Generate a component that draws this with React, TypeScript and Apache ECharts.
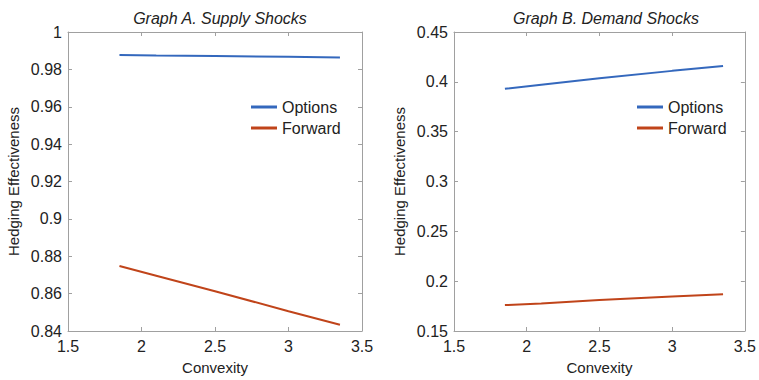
import React, { useEffect, useRef } from "react";
import * as echarts from "echarts";

const convexity = [1.85, 2.1, 2.5, 3.0, 3.35];
const supplyOptions = [0.9877, 0.9874, 0.9871, 0.9867, 0.9863];
const supplyForward = [0.8748, 0.8696, 0.8613, 0.8506, 0.8433];
const demandOptions = [0.393, 0.397, 0.4035, 0.411, 0.416];
const demandForward = [0.176, 0.1775, 0.181, 0.1846, 0.1869];
const titles = ["Graph A. Supply Shocks", "Graph B. Demand Shocks"];
const seriesNames = ["Options", "Forward"];

const BLUE = "#3468bd";
const RED = "#c0441a";
const FONT = "Liberation Sans, Arial, sans-serif";

export default function App() {
  const ref = useRef<HTMLDivElement>(null);
  useEffect(() => {
    if (!ref.current) return;
    const chart = echarts.init(ref.current, undefined, { renderer: "svg" });
    const grids = [
      { left: 68, top: 32, width: 294, height: 301 },
      { left: 454, top: 32, width: 294, height: 301 },
    ];
    const yRanges = [
      { min: 0.84, max: 1, interval: 0.02 },
      { min: 0.15, max: 0.45, interval: 0.05 },
    ];
    const axisLine = { show: true, lineStyle: { color: "#a0a0a0", width: 1 } };
    const label = { color: "#222", fontSize: 16, fontFamily: FONT };
    const tick = { inside: true, length: 4, lineStyle: { color: "#a0a0a0" } };
    const xAxis: any[] = [];
    const yAxis: any[] = [];
    [0, 1].forEach((g) => {
      xAxis.push({
        type: "value", gridIndex: g, min: 1.5, max: 3.5, interval: 0.5,
        position: "bottom", axisLine, axisTick: tick,
        axisLabel: { ...label, margin: 7 }, splitLine: { show: false },
        name: "Convexity", nameLocation: "middle", nameGap: 29,
        nameTextStyle: { color: "#222", fontSize: 15, fontFamily: FONT },
      });
      xAxis.push({
        type: "value", gridIndex: g, min: 1.5, max: 3.5, interval: 0.5,
        position: "top", axisLine, axisTick: tick,
        axisLabel: { show: false }, splitLine: { show: false },
      });
      yAxis.push({
        type: "value", gridIndex: g, ...yRanges[g],
        position: "left", axisLine, axisTick: tick,
        axisLabel: { ...label, margin: 6 }, splitLine: { show: false },
        name: "Hedging Effectiveness", nameLocation: "middle", nameGap: 47,
        nameTextStyle: { color: "#222", fontSize: 15, fontFamily: FONT },
      });
      yAxis.push({
        type: "value", gridIndex: g, ...yRanges[g],
        position: "right", axisLine, axisTick: tick,
        axisLabel: { show: false }, splitLine: { show: false },
      });
    });
    const mk = (name: string, vals: number[], color: string, g: number) => ({
      name, type: "line", xAxisIndex: g * 2, yAxisIndex: g * 2,
      data: convexity.map((x, i) => [x, vals[i]]),
      symbol: "none", lineStyle: { color, width: 2 }, itemStyle: { color },
    });
    chart.setOption({
      animation: false,
      title: titles.map((t, g) => ({
        text: t, left: grids[g].left + grids[g].width / 2, top: 5, textAlign: "center",
        textStyle: { fontSize: 16, fontStyle: "italic", fontWeight: "normal", color: "#222", fontFamily: FONT },
      })),
      legend: [0, 1].map((g) => ({
        data: seriesNames, orient: "vertical", left: grids[g].left + 178, top: 94,
        icon: "rect", itemWidth: 26, itemHeight: 3, itemGap: 5,
        textStyle: { fontSize: 16, color: "#222", fontFamily: FONT, lineHeight: 16 },
      })),
      grid: grids,
      xAxis, yAxis,
      series: [
        mk("Options", supplyOptions, BLUE, 0),
        mk("Forward", supplyForward, RED, 0),
        mk("Options", demandOptions, BLUE, 1),
        mk("Forward", demandForward, RED, 1),
      ],
    });
    return () => chart.dispose();
  }, []);
  return <div ref={ref} style={{ position: "fixed", left: 0, top: 0, width: 759, height: 380, background: "#fff" }} />;
}
